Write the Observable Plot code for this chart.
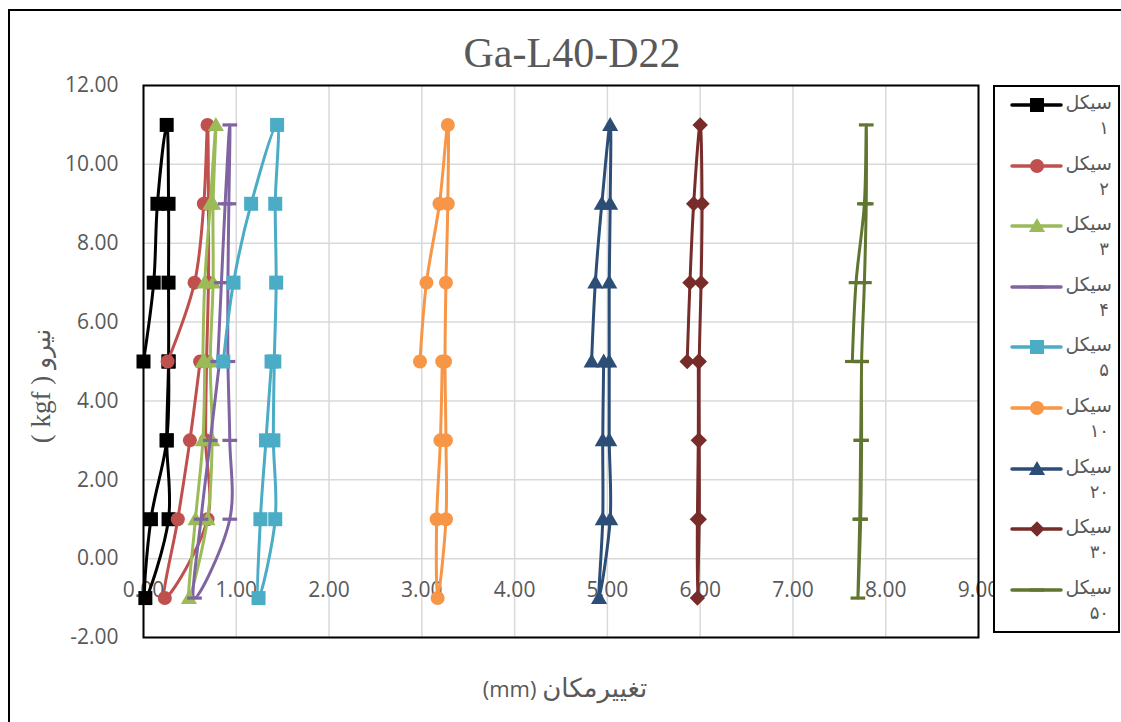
<!DOCTYPE html>
<html>
<head>
<meta charset="utf-8">
<script src="https://cdn.jsdelivr.net/npm/d3@7"></script>
<script src="https://cdn.jsdelivr.net/npm/@observablehq/plot@0.6"></script>
<style>
  html, body { margin:0; padding:0; background:#fff; overflow:hidden; width:1121px; height:722px; }
  #wrap { position:relative; width:1121px; height:722px; }
  #outer { position:absolute; left:8px; top:9px; width:1300px; height:900px; border:2px solid #000; box-sizing:border-box; }
  #chart { position:absolute; left:0; top:0; }
  #title { position:absolute; left:372px; top:32px; width:400px; text-align:center; font-family:"Liberation Serif", "Times New Roman", serif; font-size:42px; line-height:42px; color:#595959; }
  #ylabel { position:absolute; left:-109px; top:370px; width:300px; height:32px; text-align:center; direction:rtl; font-family:"Liberation Serif", serif; font-size:27px; line-height:32px; color:#595959; transform:rotate(-90deg); transform-origin:150px 16px; white-space:nowrap; }
  #xlabel { position:absolute; left:415px; top:672px; width:300px; text-align:center; direction:rtl; font-family:"Open Sans", sans-serif; font-size:22px; line-height:32px; color:#595959; white-space:nowrap; }
  .fa { font-family:"DejaVu Sans", sans-serif; }
  #ylabel .fa { font-size:25px; }
  #xlabel .fa { font-size:26px; }
  #legend { position:absolute; left:993px; top:85px; width:127px; height:548px; border:2px solid #000; box-sizing:border-box; background:#fff; }
  .item { position:absolute; left:0; width:123px; height:50px; }
  .item svg { position:absolute; left:15px; top:3px; }
  .lab { position:absolute; right:6px; top:0px; width:50px; direction:rtl; text-align:right; font-family:"DejaVu Sans", sans-serif; font-size:19px; line-height:25px; color:#595959; white-space:nowrap; }
  .lab .num { font-size:18px; padding-right:3px; }
</style>
</head>
<body>
<div id="wrap">
  <div id="outer"></div>
  <div id="chart"></div>
  <div id="title">Ga-L40-D22</div>
  <div id="ylabel"><span class="fa">نیرو</span> ( kgf )</div>
  <div id="xlabel"><span class="fa">تغییرمکان</span> (mm)</div>
  <div id="legend"></div>
</div>
<script>
// Force levels (kgf) visited in order by every cycle
const forceLevels = [5, 7, 9, 11, 9, 7, 5, 3, 1, -1, 1, 3, 5];

// Displacement (mm) for each cycle
const cycle1  = [0.00, 0.11, 0.15, 0.25, 0.27, 0.27, 0.27, 0.25, 0.27, 0.02, 0.08, 0.25, 0.27];
const cycle2  = [0.26, 0.55, 0.65, 0.69, 0.70, 0.70, 0.68, 0.67, 0.69, 0.23, 0.37, 0.50, 0.61];
const cycle3  = [0.64, 0.66, 0.72, 0.78, 0.75, 0.75, 0.72, 0.74, 0.69, 0.49, 0.56, 0.64, 0.66];
const cycle4  = [0.80, 0.84, 0.88, 0.93, 0.92, 0.91, 0.91, 0.93, 0.93, 0.55, 0.62, 0.72, 0.82];
const cycle5  = [0.86, 0.97, 1.16, 1.44, 1.42, 1.43, 1.41, 1.40, 1.42, 1.24, 1.26, 1.32, 1.38];
const cycle10 = [2.98, 3.05, 3.19, 3.28, 3.28, 3.26, 3.25, 3.26, 3.26, 3.17, 3.16, 3.20, 3.22];
const cycle20 = [4.83, 4.87, 4.94, 5.03, 5.03, 5.02, 5.02, 5.02, 5.03, 4.91, 4.95, 4.95, 4.96];
const cycle30 = [5.86, 5.89, 5.93, 6.00, 6.02, 6.01, 5.99, 5.99, 5.99, 5.97, 5.97, 5.98, 5.98];
const cycle50 = [7.64, 7.68, 7.77, 7.79, 7.79, 7.77, 7.74, 7.74, 7.73, 7.70, 7.72, 7.73, 7.74];

const seriesNames   = ["سیکل ۱", "سیکل ۲", "سیکل ۳", "سیکل ۴", "سیکل ۵", "سیکل ۱۰", "سیکل ۲۰", "سیکل ۳۰", "سیکل ۵۰"];
const seriesValues  = [cycle1, cycle2, cycle3, cycle4, cycle5, cycle10, cycle20, cycle30, cycle50];
const seriesColors  = ["#000000", "#C0504D", "#9BBB59", "#8064A2", "#4BACC6", "#F79646", "#2C4D75", "#772C2A", "#5F7530"];
const seriesMarkers = ["square", "circle", "triangle", "dash", "square", "circle", "triangle", "diamond", "dash"];

const xTicks = [0, 1, 2, 3, 4, 5, 6, 7, 8, 9];
const yTicks = [-2, 0, 2, 4, 6, 8, 10, 12];

// Excel-like marker shapes
const rad = s => Math.sqrt(s / Math.PI);
const symbols = {
  square:   { draw(c, s) { const r = rad(s); c.rect(-r, -r, 2 * r, 2 * r); } },
  circle:   { draw(c, s) { const r = rad(s); c.moveTo(r, 0); c.arc(0, 0, r, 0, 2 * Math.PI); } },
  triangle: { draw(c, s) { const r = rad(s); c.moveTo(0, -1.15 * r); c.lineTo(1.15 * r, 0.85 * r); c.lineTo(-1.15 * r, 0.85 * r); c.closePath(); } },
  diamond:  { draw(c, s) { const r = rad(s) * 1.1; c.moveTo(0, -r); c.lineTo(r, 0); c.lineTo(0, r); c.lineTo(-r, 0); c.closePath(); } },
  dash:     { draw(c, s) { const r = rad(s) * 1.05; c.rect(-r, -1.6, 2 * r, 3.2); } }
};

const rows = seriesNames.map((name, k) => seriesValues[k].map((v, i) => ({ series: name, x: v, y: forceLevels[i], i })));

const seriesMarks = rows.flatMap((data, k) => [
  Plot.line(data, { x: "x", y: "y", stroke: seriesColors[k], strokeWidth: 3, curve: "catmull-rom", strokeLinejoin: "round", strokeLinecap: "round" }),
  Plot.dot(data, { x: "x", y: "y", r: 7, symbol: symbols[seriesMarkers[k]], fill: seriesColors[k], stroke: "none" })
]);

const fmt = d => d.toFixed(2);

const chart = Plot.plot({
  width: 1121,
  height: 722,
  marginLeft: 143,
  marginRight: 143,
  marginTop: 85,
  marginBottom: 85,
  style: { fontFamily: "'Open Sans', 'DejaVu Sans', sans-serif", background: "transparent", color: "#595959" },
  x: { domain: [0, 9] },
  y: { domain: [-2, 12] },
  marks: [
    Plot.gridX(xTicks, { stroke: "#D9D9D9", strokeOpacity: 1, strokeWidth: 1.5 }),
    Plot.gridY(yTicks, { stroke: "#D9D9D9", strokeOpacity: 1, strokeWidth: 1.5 }),
    Plot.axisY(yTicks, { tickSize: 0, tickPadding: 25, tickFormat: fmt, fontSize: 21, fill: "#595959", label: null }),
    Plot.axisX(xTicks, { anchor: "bottom", tickSize: 0, tickPadding: 0, dy: -55, tickFormat: fmt, fontSize: 21, fill: "#595959", label: null }),
    Plot.frame({ stroke: "#000", strokeWidth: 2 }),
    ...seriesMarks
  ]
});
document.getElementById("chart").appendChild(chart);

// Legend
const legend = d3.select("#legend");
seriesNames.forEach((name, k) => {
  const item = legend.append("div").attr("class", "item").style("top", (3 + k * 60.6) + "px");
  const svg = item.append("svg").attr("width", 56).attr("height", 24);
  svg.append("line").attr("x1", 2).attr("x2", 51).attr("y1", 12).attr("y2", 12)
    .attr("stroke", seriesColors[k]).attr("stroke-width", 3.5).attr("stroke-linecap", "round");
  svg.append("path").attr("transform", "translate(27,12)")
    .attr("d", d3.symbol(symbols[seriesMarkers[k]], Math.PI * 49)())
    .attr("fill", seriesColors[k]);
  const parts = name.split(" ");
  const lab = item.append("div").attr("class", "lab");
  lab.append("div").text(parts[0]);
  lab.append("div").attr("class", "num").text(parts[1]);
});
</script>
</body>
</html>
